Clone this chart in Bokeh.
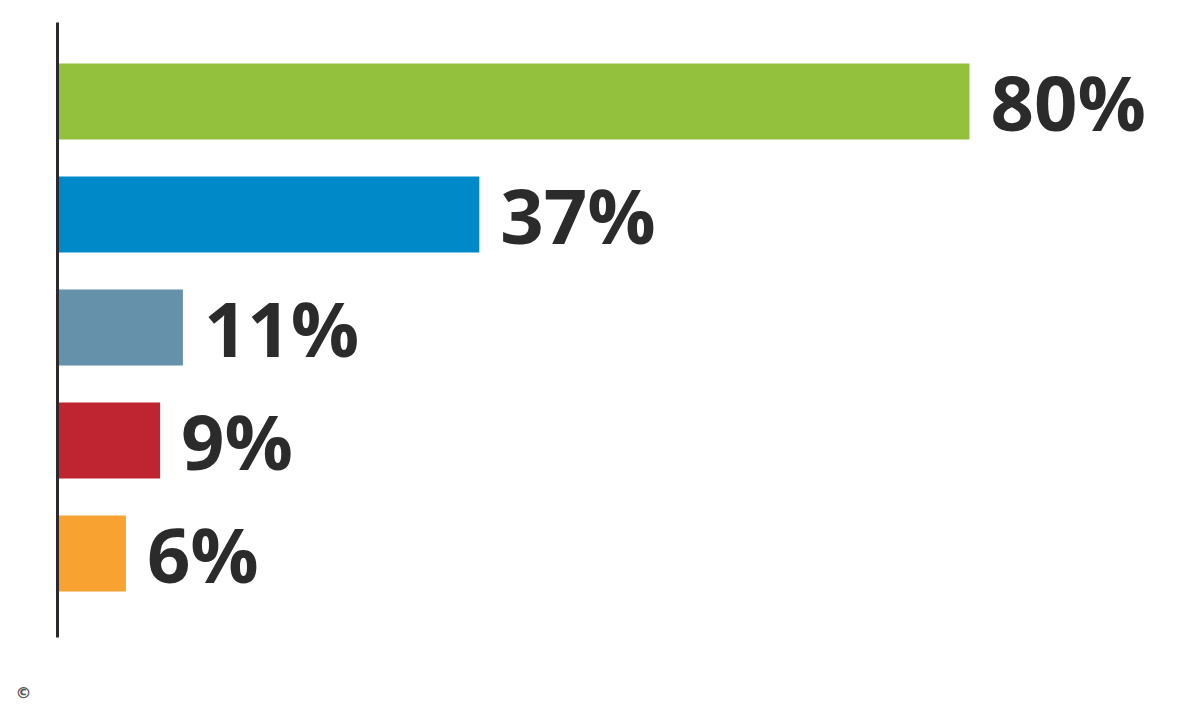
from bokeh.plotting import figure
from bokeh.models import ColumnDataSource, Range1d, Label
from bokeh.core.properties import value
from bokeh.embed import file_html
from bokeh.resources import INLINE

categories = ["A", "B", "C", "D", "E"]
values = [80, 37, 11, 9, 6]
labels = ["80%", "37%", "11%", "9%", "6%"]
colors = ["#93C13D", "#0089C9", "#6591AA", "#BE2530", "#F8A231"]

W, H = 1184, 704
axis_x_px = 57          # horizontal position of the vertical axis line
axis_top_px, axis_bot_px = 22, 637
first_center_px = 101   # centre of first bar
px_per_unit_x = 11.4
px_per_row = 113.0

idx = list(range(len(categories)))
src = ColumnDataSource(dict(y=idx, v=values, lab=labels, c=colors, cat=categories))

y_end = -first_center_px / px_per_row
y_start = (H - first_center_px) / px_per_row
p = figure(width=W, height=H, output_backend="svg", toolbar_location=None,
           x_range=Range1d(-axis_x_px / px_per_unit_x, (W - axis_x_px) / px_per_unit_x),
           y_range=Range1d(start=y_start, end=y_end),
           min_border_left=0, min_border_right=0,
           min_border_top=0, min_border_bottom=0)
p.outline_line_color = None
p.grid.visible = False
p.xaxis.visible = False
p.background_fill_color = "white"
p.border_fill_color = "white"

ya = p.yaxis[0]
ya.fixed_location = 0
ya.bounds = ((axis_top_px - first_center_px) / px_per_row,
             (axis_bot_px - first_center_px) / px_per_row)
ya.axis_line_color = "#2a2a2e"
ya.axis_line_width = 3
ya.major_tick_line_color = None
ya.minor_tick_line_color = None
ya.major_label_text_font_size = "0px"
ya.major_label_text_color = None

p.hbar(y="y", left=0, right="v", height=76 / px_per_row, fill_color="c",
       line_color=None, source=src)

p.text(x="v", y="y", text="lab", source=src, x_offset=21,
       text_baseline="middle", text_align="left",
       text_font=value("Open Sans"), text_font_style="bold",
       text_font_size="76px", text_color="#2b2b2b")

p.add_layout(Label(x=15, y=H - 692, x_units="screen", y_units="screen",
                   text="©", text_font_size="16px", text_color="#555555",
                   text_baseline="middle", text_font_style="bold",
                   text_font="DejaVu Sans"))

open("out.html", "w").write(file_html(p, INLINE))
